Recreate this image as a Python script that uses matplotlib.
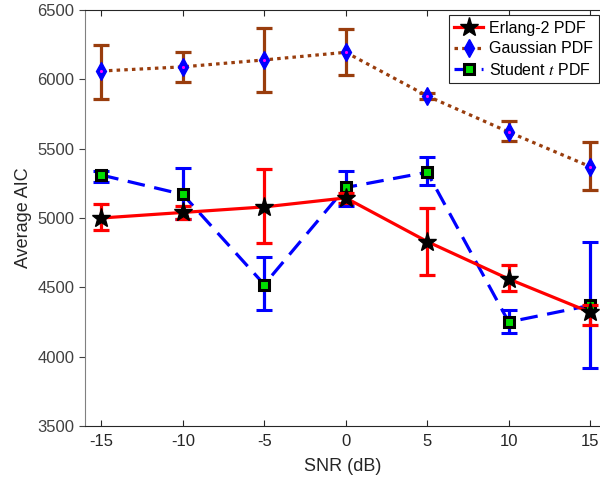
import matplotlib.pyplot as plt
from matplotlib.lines import Line2D

snr = [-15, -10, -5, 0, 5, 10, 15]

erlang = [5000, 5040, 5080, 5145, 4830, 4560, 4320]
erlang_lo = [4910, 4990, 4820, 5110, 4590, 4470, 4230]
erlang_hi = [5100, 5090, 5350, 5180, 5070, 4660, 4370]

gauss = [6060, 6090, 6140, 6195, 5880, 5620, 5370]
gauss_lo = [5860, 5980, 5910, 6030, 5860, 5555, 5200]
gauss_hi = [6250, 6200, 6370, 6360, 5900, 5700, 5550]

student = [5310, 5170, 4520, 5220, 5330, 4250, 4370]
student_lo = [5260, 4990, 4340, 5090, 5240, 4170, 3920]
student_hi = [5340, 5360, 4720, 5340, 5440, 4340, 4830]

labels = ['Erlang-2 PDF', 'Gaussian PDF', 'Student $t$ PDF']


def err(y, lo, hi):
    return [[a - b for a, b in zip(y, lo)], [b - a for a, b in zip(y, hi)]]


plt.rcParams['font.family'] = ['Liberation Sans', 'DejaVu Sans']
plt.rcParams['mathtext.fontset'] = 'stix'
fig = plt.figure(figsize=(6, 4.94), dpi=100)
ax = fig.add_axes([85 / 600, 68 / 494, 515 / 600, 416 / 494])

lw = 2.3
brown = '#993d0d'
gstyle = dict(color=brown, linestyle=(0, (1.1, 1.3)), linewidth=lw, marker='d', markersize=9,
              markerfacecolor='blue', markeredgecolor='blue')
sstyle = dict(color='blue', linestyle=(0, (5.5, 3)), linewidth=lw, marker='s', markersize=7,
              markerfacecolor='#00e000', markeredgecolor='black', markeredgewidth=2.2)
estyle = dict(color='red', linestyle='-', linewidth=lw, marker='*', markersize=14,
              markerfacecolor='black', markeredgecolor='black')
eb = dict(capsize=6, capthick=lw, elinewidth=lw)

ax.errorbar(snr, gauss, yerr=err(gauss, gauss_lo, gauss_hi), zorder=2, **eb, **gstyle)
ax.plot(snr, gauss, linestyle='none', marker='.', markersize=2.5, color='magenta', zorder=3)
ax.errorbar(snr, student, yerr=err(student, student_lo, student_hi), zorder=3, **eb, **sstyle)
ax.errorbar(snr, erlang, yerr=err(erlang, erlang_lo, erlang_hi), zorder=4, **eb, **estyle)

ax.set_xlim(-16, 15.6)
ax.set_ylim(3500, 6500)
ax.set_xticks(snr)
ax.set_xticklabels([str(s) for s in snr])
ax.set_yticks(range(3500, 6501, 500))
ax.tick_params(axis='x', direction='in', labelsize=12, colors='#262626', top=True, length=4, pad=6)
ax.tick_params(axis='y', direction='out', labelsize=12, colors='#404040', length=4)
ax.spines['left'].set_color('#808080')
ax.spines['bottom'].set_color('#262626')
ax.spines['top'].set_color('#262626')
ax.spines['right'].set_visible(False)
ax.set_xlabel('SNR (dB)', fontsize=13, color='#262626', labelpad=6)
ax.set_ylabel('Average AIC', fontsize=13, color='#262626')

handles = [Line2D([], [], **estyle), Line2D([], [], **gstyle), Line2D([], [], **sstyle)]
leg = ax.legend(handles, labels, loc='upper right', bbox_to_anchor=(599 / 600, 1 - 15 / 494),
                bbox_transform=fig.transFigure, fontsize=11.5, fancybox=False, framealpha=1,
                edgecolor='#262626', borderaxespad=0, borderpad=0.35, labelspacing=0.35,
                handlelength=1.8, handletextpad=0.4)
leg.get_frame().set_linewidth(0.8)

fig.savefig('out.png', dpi=100)
